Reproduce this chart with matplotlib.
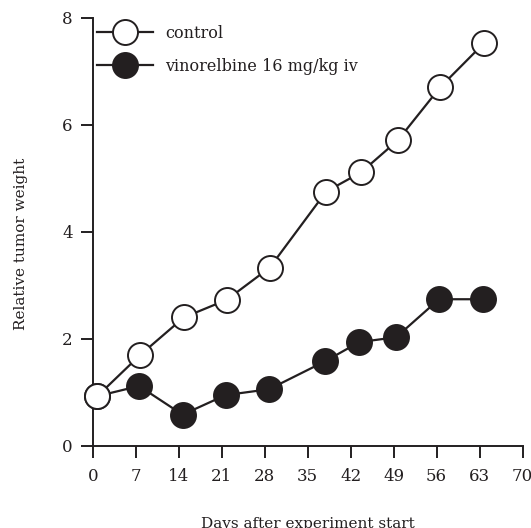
import matplotlib
matplotlib.use("Agg")
import matplotlib.pyplot as plt

days_control = [0.7, 7.7, 14.8, 21.8, 28.8, 38.0, 43.7, 49.7, 56.6, 63.8]
control = [0.93, 1.70, 2.40, 2.73, 3.33, 4.75, 5.11, 5.71, 6.70, 7.53]
days_vino = [0.7, 7.5, 14.6, 21.6, 28.7, 37.8, 43.4, 49.4, 56.4, 63.5]
vino = [0.93, 1.12, 0.585, 0.95, 1.06, 1.58, 1.94, 2.03, 2.74, 2.74]
xticks = [0, 7, 14, 21, 28, 35, 42, 49, 56, 63, 70]
yticks = [0, 2, 4, 6, 8]

plt.rcParams['font.family'] = ['DejaVu Serif']
col = '#231f20'

fig = plt.figure(figsize=(5.31, 5.28), dpi=100)
ax = fig.add_axes([93/531, 1-446/528, 429.5/531, 428.5/528])

ms = 18
mew = 1.4
lw = 1.6
ax.plot(days_vino, vino, '-o', color=col, lw=lw, ms=ms, mfc=col, mec=col,
        mew=mew, label='vinorelbine 16 mg/kg iv', zorder=3, clip_on=False)
ax.plot(days_control, control, '-o', color=col, lw=lw, ms=ms, mfc='white', mec=col,
        mew=mew, label='control', zorder=4, clip_on=False)

ax.set_xlim(0, 70)
ax.set_ylim(0, 8)
ax.set_xticks(xticks)
ax.set_yticks(yticks)
for s in ['top', 'right']:
    ax.spines[s].set_visible(False)
for s in ['left', 'bottom']:
    ax.spines[s].set_linewidth(1.4)
    ax.spines[s].set_color(col)
ax.tick_params(direction='out', length=8.5, width=1.4, color=col,
               labelsize=12, labelcolor=col)
ax.tick_params(axis='x', pad=7.5)
ax.tick_params(axis='y', pad=6)

ax.set_xlabel('Days after experiment start', fontsize=11, color=col)
ax.set_ylabel('Relative tumor weight', fontsize=11, color=col)
ax.xaxis.set_label_coords(0.5, -0.166)
ax.yaxis.set_label_coords(-0.151, 0.472)

h, l = ax.get_legend_handles_labels()
leg = ax.legend(h[::-1], l[::-1], loc='upper left',
                bbox_to_anchor=(97/531, 1-25/528), bbox_transform=fig.transFigure,
                frameon=False, fontsize=11.5, handlelength=3.5, handletextpad=0.75,
                labelspacing=1.0, borderpad=0, borderaxespad=0, handleheight=1.0)
for t in leg.get_texts():
    t.set_color(col)

fig.savefig('out.png', dpi=100)
